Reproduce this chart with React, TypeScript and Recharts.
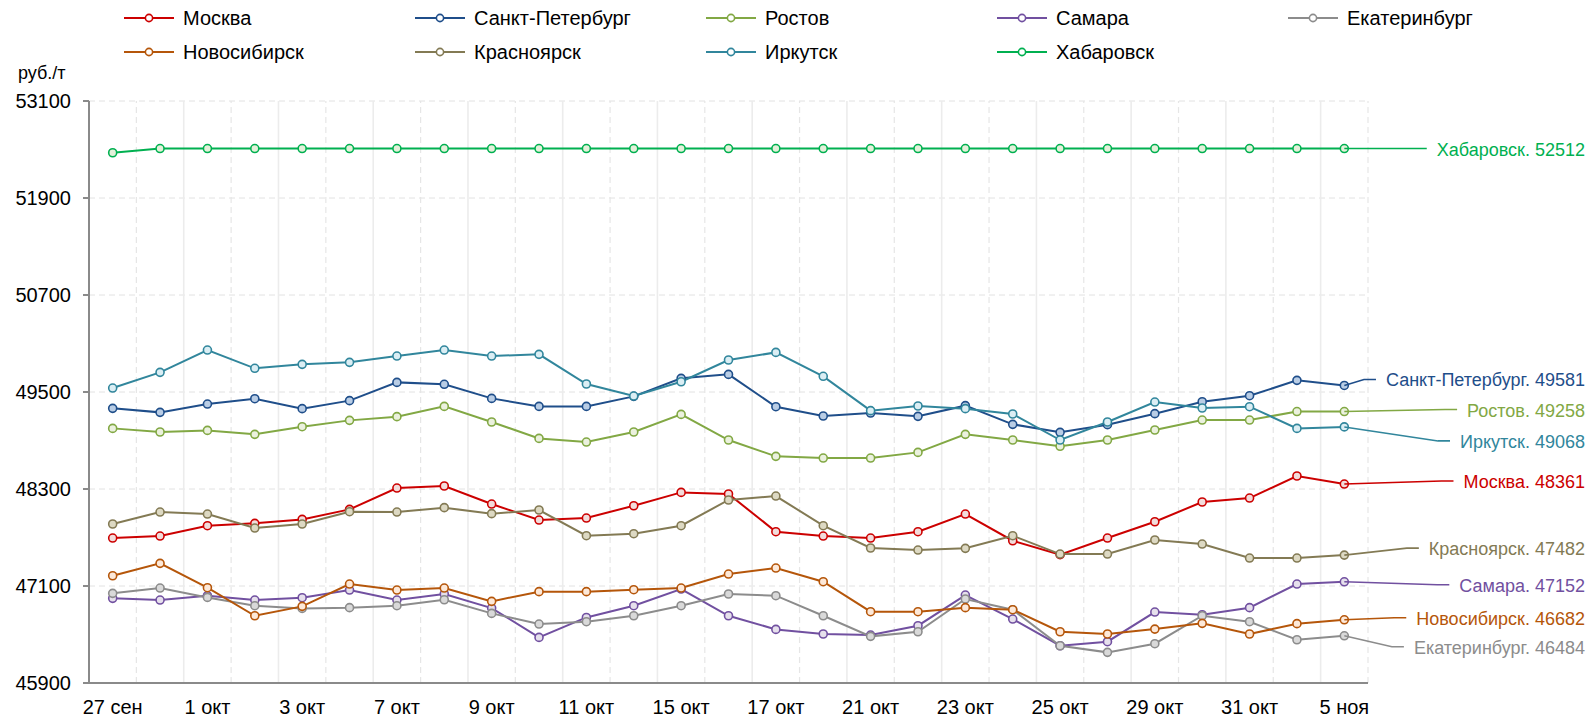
import {
    CartesianGrid,
    Line,
    LineChart,
    ReferenceLine,
    XAxis,
    YAxis,
} from "recharts";

const FONT = "'Liberation Sans', Arial, sans-serif";

const dates = [
    "27 сен", "30 сен", "1 окт", "2 окт", "3 окт", "4 окт", "7 окт",
    "8 окт", "9 окт", "10 окт", "11 окт", "14 окт", "15 окт", "16 окт",
    "17 окт", "18 окт", "21 окт", "22 окт", "23 окт", "24 окт", "25 окт",
    "28 окт", "29 окт", "30 окт", "31 окт", "1 ноя", "5 ноя",
];

const yTicks = [45900, 47100, 48300, 49500, 50700, 51900, 53100];

const moskva = [
    47693, 47718, 47846, 47875, 47924, 48048, 48312, 48337, 48114, 47916,
    47941, 48093, 48258, 48238, 47772, 47718, 47693, 47772, 47990, 47660,
    47487, 47693, 47895, 48139, 48188, 48461, 48361,
];
const spb = [
    49298, 49248, 49351, 49417, 49294, 49393, 49619, 49595, 49421, 49322,
    49322, 49446, 49669, 49718, 49318, 49203, 49240, 49199, 49331, 49100,
    49001, 49096, 49232, 49380, 49454, 49644, 49581,
];
const rostov = [
    49050, 49005, 49025, 48976, 49071, 49149, 49195, 49322, 49129, 48926,
    48881, 49005, 49223, 48906, 48704, 48683, 48683, 48753, 48976, 48906,
    48828, 48906, 49030, 49153, 49153, 49258, 49258,
];
const samara = [
    46947, 46926, 46980, 46926, 46955, 47050, 46926, 47001, 46827, 46464,
    46711, 46856, 47062, 46732, 46563, 46506, 46493, 46609, 46988, 46691,
    46361, 46411, 46778, 46745, 46832, 47124, 47152,
];
const ekb = [
    47009, 47075, 46959, 46856, 46823, 46832, 46856, 46930, 46761, 46629,
    46658, 46732, 46856, 47001, 46980, 46732, 46477, 46534, 46939, 46807,
    46361, 46279, 46386, 46732, 46658, 46435, 46484,
];
const novosib = [
    47227, 47380, 47079, 46732, 46848, 47124, 47050, 47075, 46910, 47030,
    47030, 47054, 47075, 47248, 47322, 47153, 46782, 46782, 46832, 46807,
    46534, 46506, 46567, 46638, 46506, 46634, 46682,
];
const krasnoyarsk = [
    47867, 48015, 47990, 47817, 47867, 48019, 48015, 48069, 47995, 48040,
    47722, 47747, 47846, 48164, 48213, 47846, 47570, 47545, 47566, 47722,
    47495, 47495, 47669, 47619, 47446, 47446, 47482,
];
const irkutsk = [
    49549, 49743, 50019, 49793, 49842, 49867, 49945, 50019, 49945, 49966,
    49599, 49450, 49627, 49896, 49990, 49694, 49269, 49327, 49294, 49228,
    48906, 49129, 49376, 49302, 49318, 49050, 49068,
];
const khabarovsk = [
    52460, 52512, 52512, 52512, 52512, 52512, 52512, 52512, 52512, 52512,
    52512, 52512, 52512, 52512, 52512, 52512, 52512, 52512, 52512, 52512,
    52512, 52512, 52512, 52512, 52512, 52512, 52512,
];

// legend order = series order; labelDy shifts the end label off its point
const series = [
    { name: "Москва", values: moskva, color: "#cc0000", fill: "#f2dcdb", labelDy: -2 },
    { name: "Санкт-Петербург", values: spb, color: "#1f4e8a", fill: "#b9cde5", labelDy: -5 },
    { name: "Ростов", values: rostov, color: "#82a844", fill: "#ebf1de", labelDy: -1 },
    { name: "Самара", values: samara, color: "#7150a0", fill: "#e6e0ec", labelDy: 4 },
    { name: "Екатеринбург", values: ekb, color: "#8c8c8c", fill: "#d9d9d9", labelDy: 12 },
    { name: "Новосибирск", values: novosib, color: "#b5560a", fill: "#fde9d9", labelDy: -1 },
    { name: "Красноярск", values: krasnoyarsk, color: "#837a54", fill: "#ddd9c3", labelDy: -6 },
    { name: "Иркутск", values: irkutsk, color: "#31869c", fill: "#dbeef4", labelDy: 15 },
    { name: "Хабаровск", values: khabarovsk, color: "#00b050", fill: "#e4f0da", labelDy: 1 },
];

const rows = dates.map((date, i) => {
    const row: Record<string, number | string> = { i, date };
    series.forEach((s) => {
        row[s.name] = s.values[i];
    });
    return row;
});

const lastIndex = dates.length - 1;
const xTicks = dates.map((_, i) => i).filter((i) => i % 2 === 0);
const boundaries = dates.map((_, i) => i + 0.5);

const LABEL_RIGHT = 1585;
const LABEL_FONT_SIZE = 18;

let measureCtx: CanvasRenderingContext2D | null = null;
function textWidth(text: string) {
    if (!measureCtx) {
        measureCtx = document.createElement("canvas").getContext("2d");
    }
    if (!measureCtx) return text.length * 9;
    measureCtx.font = `${LABEL_FONT_SIZE}px ${FONT}`;
    return measureCtx.measureText(text).width;
}

function endLabel(s: (typeof series)[number]) {
    return (props: any) => {
        if (props.index !== lastIndex) return null;
        const text = `${s.name}. ${s.values[lastIndex]}`;
        const start = LABEL_RIGHT - textWidth(text);
        const ly = props.y + s.labelDy;
        const knee = start - 22;
        return (
            <g>
                <polyline
                    points={`${props.x},${props.y} ${knee},${ly - 1} ${start - 10},${ly - 1}`}
                    fill="none"
                    stroke={s.color}
                    strokeWidth={1.6}
                />
                <text
                    x={LABEL_RIGHT}
                    y={ly}
                    textAnchor="end"
                    dominantBaseline="central"
                    fontFamily={FONT}
                    fontSize={LABEL_FONT_SIZE}
                    fill={s.color}
                >
                    {text}
                </text>
            </g>
        );
    };
}

function ChartLegend() {
    return (
        <>
            {series.map((s, idx) => (
                <div
                    key={s.name}
                    style={{
                        position: "absolute",
                        left: 124 + 291 * (idx % 5),
                        top: 7 + 34 * Math.floor(idx / 5),
                        height: 22,
                        display: "flex",
                        alignItems: "center",
                        fontFamily: FONT,
                        fontSize: 20,
                        color: "#000",
                        whiteSpace: "nowrap",
                    }}
                >
                    <svg width={50} height={22} style={{ marginRight: 9 }}>
                        <line x1={0} y1={11} x2={50} y2={11} stroke={s.color} strokeWidth={2} />
                        <circle cx={25} cy={11} r={3.6} fill="#fff" stroke={s.color} strokeWidth={1.6} />
                    </svg>
                    {s.name}
                </div>
            ))}
        </>
    );
}

export default function App() {
    return (
        <div
            style={{
                position: "absolute",
                left: 0,
                top: 0,
                width: 1591,
                height: 722,
                background: "#fff",
            }}
        >
            <ChartLegend />

            <div
                style={{
                    position: "absolute",
                    left: 18,
                    top: 63,
                    fontFamily: FONT,
                    fontSize: 18,
                    color: "#000",
                }}
            >
                руб./т
            </div>

            <LineChart
                width={1591}
                height={722}
                data={rows}
                margin={{ top: 101, right: 223, bottom: 0, left: 0 }}
            >
                <CartesianGrid
                    vertical={false}
                    stroke="#e2e2e2"
                    strokeDasharray="6 4"
                />

                {boundaries.map((b, j) => (
                    <ReferenceLine
                        key={`b-${b}`}
                        x={b}
                        stroke={j % 2 === 1 ? "#ececec" : "#e6e6e6"}
                        strokeWidth={j % 2 === 1 ? 1.6 : 1.2}
                        strokeDasharray={j % 2 === 1 ? undefined : "6 4"}
                    />
                ))}

                <XAxis
                    dataKey="i"
                    type="number"
                    domain={[-0.5, lastIndex + 0.5]}
                    ticks={xTicks}
                    interval={0}
                    tickFormatter={(v) => dates[v]}
                    tickLine={false}
                    tickMargin={11}
                    height={39}
                    axisLine={{ stroke: "#8a8a8a", strokeWidth: 2 }}
                    tick={{ fontSize: 20, fill: "#000", fontFamily: FONT }}
                />

                <YAxis
                    type="number"
                    domain={[45900, 53100]}
                    ticks={yTicks}
                    interval={0}
                    width={89}
                    tickSize={6}
                    tickMargin={12}
                    axisLine={{ stroke: "#8a8a8a", strokeWidth: 2 }}
                    tickLine={{ stroke: "#8a8a8a", strokeWidth: 2 }}
                    tick={{ fontSize: 20, fill: "#000", fontFamily: FONT }}
                />

                {series.map((s) => (
                    <Line
                        key={s.name}
                        type="linear"
                        dataKey={s.name}
                        stroke={s.color}
                        strokeWidth={2}
                        dot={{ r: 4, fill: s.fill, stroke: s.color, strokeWidth: 1.6 }}
                        activeDot={false}
                        label={endLabel(s)}
                        isAnimationActive={false}
                    />
                ))}
            </LineChart>
        </div>
    );
}
